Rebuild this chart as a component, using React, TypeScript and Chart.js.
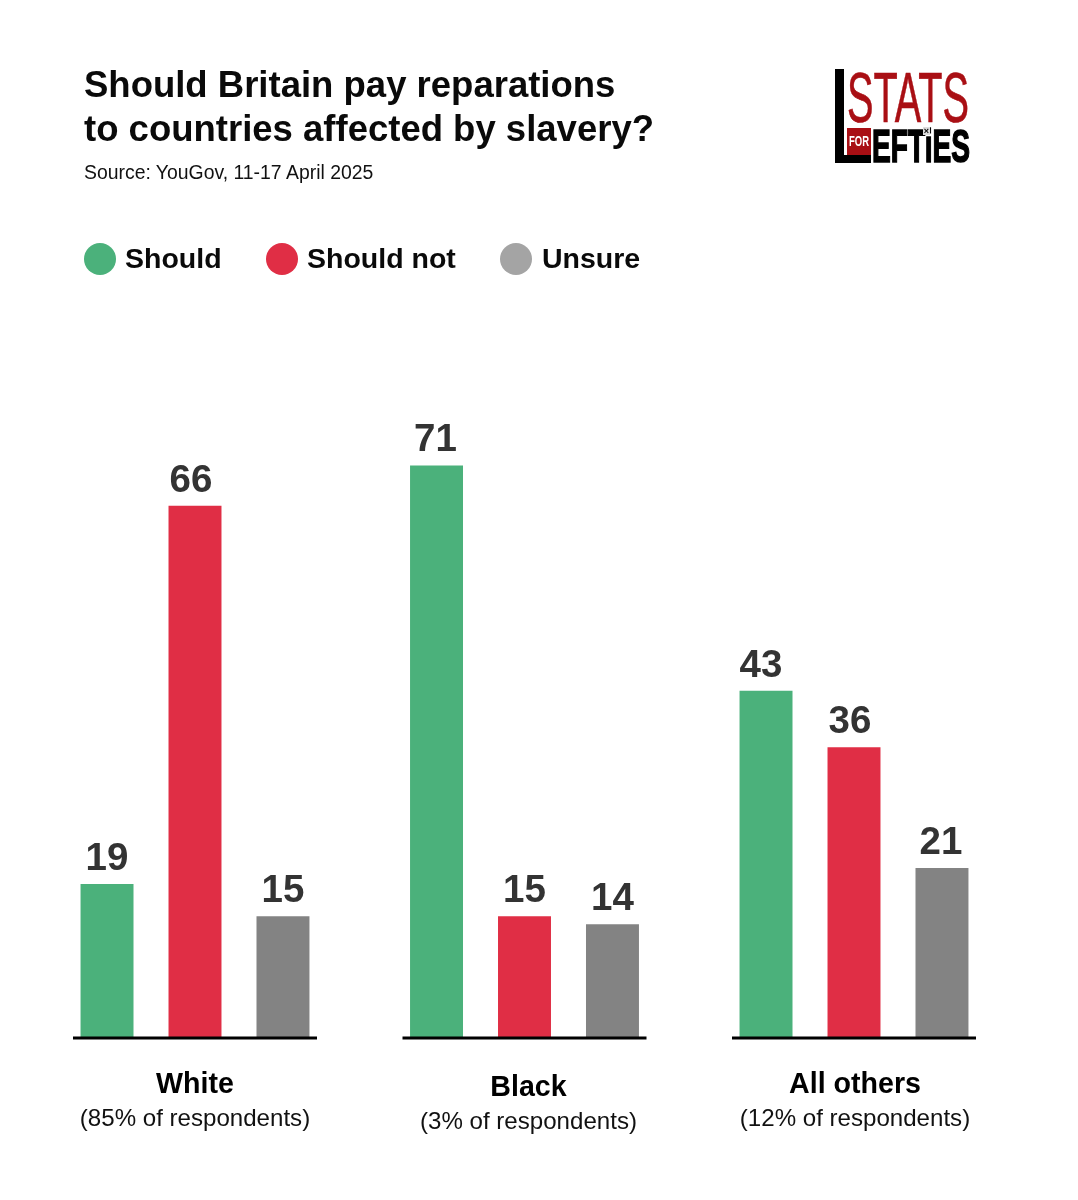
import React, { useEffect, useRef } from "react";
import { Chart, registerables } from "chart.js";

Chart.register(...registerables);

const groups = ["White", "Black", "All others"];
const groupNotes = ["(85% of respondents)", "(3% of respondents)", "(12% of respondents)"];
const groupLabelShiftY = [0, 3, 0];
const groupLabelShiftX = [0, 4, 1];
const seriesNames = ["Should", "Should not", "Unsure"];
const shouldValues = [19, 71, 43];
const shouldNotValues = [66, 15, 36];
const unsureValues = [15, 14, 21];
const seriesColors = ["#4BB17B", "#E02E45", "#838383"];
const legendColors = ["#4BB17B", "#E02E45", "#A4A4A4"];
const legendDotX = [84, 266, 500];
const legendTextX = [125, 307, 542];
const valueLabelShiftX = [
  [0, -1, -5],
  [-4, 0, -4],
  [0, 0, -1],
];

const titleLines = ["Should Britain pay reparations", "to countries affected by slavery?"];
const sourceText = "Source: YouGov, 11-17 April 2025";
const FONT = '"Liberation Sans", Arial, sans-serif';

const overlayPlugin = {
  id: "overlay",
  afterDatasetsDraw(chart: any) {
    const { ctx } = chart;
    const xScale = chart.scales.x;
    const base = chart.scales.y.getPixelForValue(0);
    ctx.save();
    ctx.textAlign = "center";
    ctx.textBaseline = "alphabetic";
    ctx.fillStyle = "#333333";
    ctx.font = `bold 38.5px ${FONT}`;
    chart.data.datasets.forEach((ds: any, i: number) => {
      chart.getDatasetMeta(i).data.forEach((bar: any, j: number) => {
        ctx.fillText(String(ds.data[j]), bar.x + valueLabelShiftX[i][j], bar.y - 14);
      });
    });
    groups.forEach((g, i) => {
      const cx = xScale.getPixelForValue(i);
      ctx.fillStyle = "#000000";
      ctx.fillRect(cx - 122, base - 0.5, 244, 3);
      const sy = groupLabelShiftY[i];
      const tx = cx + groupLabelShiftX[i];
      ctx.font = `bold 28.6px ${FONT}`;
      ctx.fillText(g, tx, base + 56 + sy);
      ctx.font = `24.1px ${FONT}`;
      ctx.fillStyle = "#111111";
      ctx.fillText(groupNotes[i], tx, base + 89 + sy);
    });
    ctx.restore();
  },
};

function Logo() {
  const red = "#A90F14";
  return (
    <svg width={150} height={100} viewBox="830 66 150 100" style={{ position: "absolute", left: 830, top: 66 }}>
      <rect x={835} y={69} width={9} height={94} fill="#000" />
      <rect x={835} y={155} width={36} height={8} fill="#000" />
      <text x={847} y={122} textLength={122} lengthAdjust="spacingAndGlyphs" fontSize={70} fill={red} stroke={red} strokeWidth={0.6}
        style={{ fontFamily: FONT }}>STATS</text>
      <rect x={847} y={128} width={24} height={27} fill={red} />
      <text x={849} y={146} textLength={20} lengthAdjust="spacingAndGlyphs" fontSize={14} fontWeight={700} fill="#fff"
        style={{ fontFamily: FONT }}>FOR</text>
      <text x={872} y={162} textLength={98} lengthAdjust="spacingAndGlyphs" fontSize={46} fontWeight={700} fill="#000" stroke="#000" strokeWidth={1.6}
        style={{ fontFamily: FONT }}>EFTiES</text>
      <rect x={923} y={127} width={7} height={8} fill="#ddd" />
      <text x={926.5} y={134} textAnchor="middle" fontSize={9} fontWeight={700} fill="#000" style={{ fontFamily: FONT }}>×</text>
    </svg>
  );
}

export default function App() {
  const ref = useRef<HTMLCanvasElement | null>(null);

  useEffect(() => {
    document.body.style.margin = "0";
    document.body.style.background = "#fff";
    const chart = new Chart(ref.current as HTMLCanvasElement, {
      type: "bar",
      data: {
        labels: groups,
        datasets: [shouldValues, shouldNotValues, unsureValues].map((values, i) => ({
          label: seriesNames[i],
          data: values,
          backgroundColor: seriesColors[i],
          borderWidth: 0,
          categoryPercentage: 0.801,
          barPercentage: 0.602,
        })),
      },
      plugins: [overlayPlugin],
      options: {
        animation: false,
        responsive: false,
        devicePixelRatio: 1,
        layout: { padding: { left: 30.25, right: 59.25, top: 393, bottom: 163 } },
        plugins: { legend: { display: false }, title: { display: false }, tooltip: { enabled: false } },
        scales: {
          x: { display: false },
          y: { display: false, min: 0, max: 80 },
        },
      },
    } as any);
    return () => chart.destroy();
  }, []);

  return (
    <div style={{ position: "relative", width: 1078, height: 1200, background: "#fff", fontFamily: FONT, overflow: "hidden" }}>
      <canvas ref={ref} width={1078} height={1200} style={{ position: "absolute", left: 0, top: 0, display: "block" }} />
      <div style={{ position: "absolute", left: 84, top: 63, fontSize: 36.5, fontWeight: 700, lineHeight: "44px", color: "#0a0a0a", whiteSpace: "nowrap" }}>
        {titleLines.map((t) => <div key={t}>{t}</div>)}
      </div>
      <div style={{ position: "absolute", left: 84, top: 161, fontSize: 19.4, lineHeight: "22px", color: "#111", whiteSpace: "nowrap" }}>{sourceText}</div>
      {seriesNames.map((n, i) => (
        <div key={n}>
          <div style={{ position: "absolute", left: legendDotX[i], top: 243, width: 32, height: 32, borderRadius: "50%", background: legendColors[i] }} />
          <div style={{ position: "absolute", left: legendTextX[i], top: 240, fontSize: 28.5, fontWeight: 700, lineHeight: "36px", color: "#0a0a0a", whiteSpace: "nowrap" }}>{n}</div>
        </div>
      ))}
      <Logo />
    </div>
  );
}
